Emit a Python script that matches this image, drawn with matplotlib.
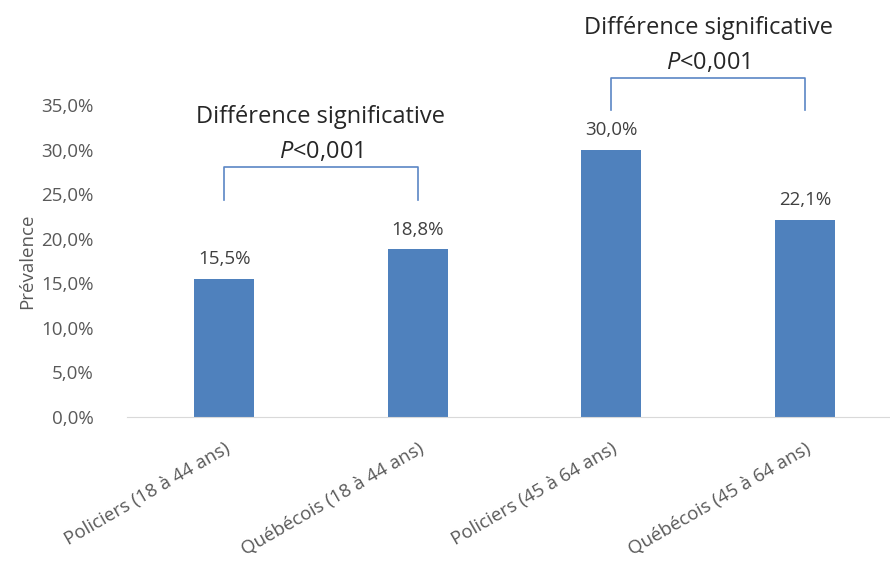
import numpy as np
import matplotlib.pyplot as plt

plt.rcParams['font.family'] = ['Open Sans', 'DejaVu Sans']
plt.rcParams['mathtext.fontset'] = 'custom'
plt.rcParams['mathtext.it'] = 'Open Sans:italic'
plt.rcParams['mathtext.rm'] = 'Open Sans'

# prevalence per group (%)
groups = ['Policiers (18 à 44 ans)', 'Québécois (18 à 44 ans)',
          'Policiers (45 à 64 ans)', 'Québécois (45 à 64 ans)']
prevalence = [15.5, 18.8, 30.0, 22.1]
yticks = [0, 5, 10, 15, 20, 25, 30, 35]
# pairs compared, with bracket top height
pairs = [(0, 1), (2, 3)]
bracket_tops = [28.0, 38.0]

bar_color = '#4F81BD'
line_color = '#5B86C5'
grey = '#595959'

fig = plt.figure(figsize=(8.9, 5.65), dpi=100)
ax = fig.add_axes([0.143, 0.262, 0.857, 0.552])

x = np.arange(len(groups))
ax.bar(x, prevalence, width=0.31, color=bar_color)

for xi, v in zip(x, prevalence):
    ax.text(xi, v + 2.2, f'{v:.1f}%'.replace('.', ','), ha='center', va='center',
            fontsize=13.5, color='#404040')

# significance brackets
for (a, b), top in zip(pairs, bracket_tops):
    ax.plot([a, a, b, b], [top - 3.6, top, top, top - 3.6], color=line_color,
            lw=1.2, clip_on=False)
    mid = (a + b) / 2
    ax.text(mid, top + 1.7, '$P$<0,001', ha='center', va='center',
            fontsize=17, color='#262626', clip_on=False)
    ax.text(mid, top + 5.7, 'Différence significative', ha='center', va='center',
            fontsize=17, color='#262626', clip_on=False)

ax.set_xlim(-0.5, 3.44)
ax.set_ylim(0, 35)
ax.set_yticks(yticks)
ax.set_yticklabels([f'{t:.1f}%'.replace('.', ',') for t in yticks],
                   fontsize=13.5, color=grey)
ax.set_xticks(x)
ax.set_xticklabels(groups, rotation=30, ha='right', rotation_mode='anchor',
                   fontsize=13.5, color=grey)
ax.tick_params(axis='y', length=0, pad=24)
ax.tick_params(axis='x', length=0, pad=16)
for s in ['top', 'right', 'left']:
    ax.spines[s].set_visible(False)
ax.spines['bottom'].set_color('#D9D9D9')
ax.set_ylabel('Prévalence', fontsize=13.5, color=grey, labelpad=4)

fig.savefig('out.png', dpi=100)
